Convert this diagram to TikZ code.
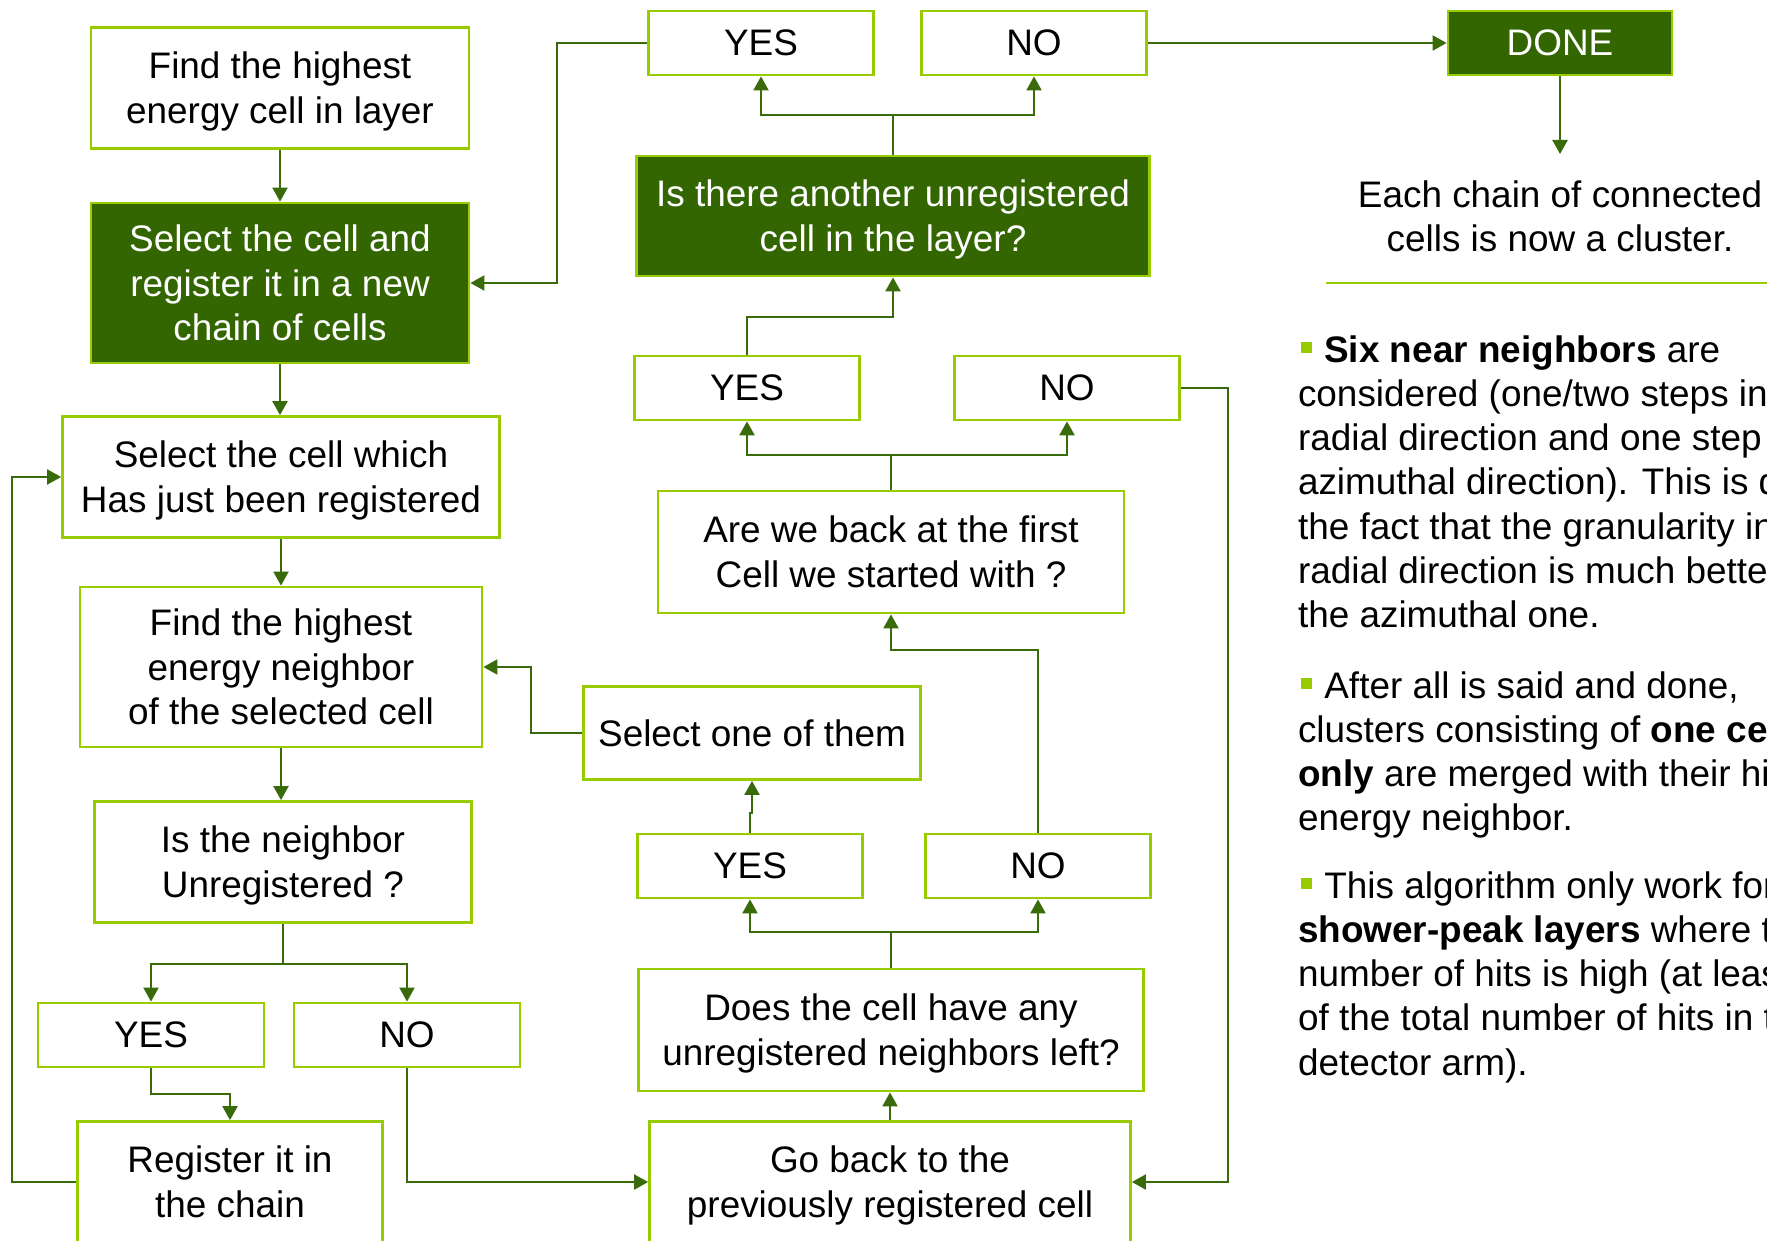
\documentclass[tikz,border=0pt]{standalone}
\usepackage{fontspec}
\setmainfont{Liberation Sans}
\usepackage{xcolor}
\usepackage{tikz}
\usetikzlibrary{arrows.meta}
\definecolor{CLDark}{HTML}{336600}
\definecolor{CLLime}{HTML}{99CC00}
\definecolor{CLLine}{HTML}{3A6B0A}
\tikzset{
  cbox/.style={draw=CLLime,line width=.8pt,fill=white,align=center,inner sep=0pt,
    font=\fontsize{10.5}{12.6}\selectfont},
  cdark/.style={cbox,fill=CLDark,text=white},
  cchoice/.style={cbox,minimum width=2.25cm,minimum height=.64cm},
  cnote/.style={inner sep=0pt,outer sep=0pt,align=left,anchor=north west,
    font=\fontsize{10.5}{12.6}\selectfont},
  cflow/.style={draw=CLLine,line width=.6pt,-{Triangle[width=4.3pt,length=4pt]}}
}
\newcommand{\lnup}{\rule{0pt}{10pt}}
\newcommand{\lndn}{\rule[-2.6pt]{0pt}{0pt}}
\newcommand{\bulsq}{\hspace*{0.8pt}\textcolor{CLLime}{\rule[2.6pt]{3.1pt}{3.1pt}}\hspace{3.6pt}}

\begin{document}
\begin{tikzpicture}[x=1cm,y=1cm]
\path[use as bounding box] (0,0) rectangle (17.67,12.40);
\fill[white] (0,0) rectangle (17.67,12.40);
\node[cbox,minimum width=3.78cm,minimum height=1.21cm] (findcell) at (2.80,11.52) {\lnup Find the highest\\energy cell in layer\lndn};
\node[cdark,minimum width=3.78cm,minimum height=1.60cm] (newchain) at (2.80,9.57) {\lnup Select the cell and\\register it in a new\\chain of cells\lndn};
\node[cbox,minimum width=4.37cm,minimum height=1.21cm] (selcell) at (2.81,7.63) {\lnup Select the cell which\\Has just been registered\lndn};
\node[cbox,minimum width=4.02cm,minimum height=1.60cm] (findnb) at (2.81,5.73) {\lnup Find the highest\\energy neighbor\\of the selected cell\lndn};
\node[cbox,minimum width=3.77cm,minimum height=1.21cm] (isunreg) at (2.83,3.78) {\lnup Is the neighbor\\ Unregistered ?\lndn};
\node[cchoice,minimum width=2.26cm] (yesunreg) at (1.51,2.05) {YES};
\node[cchoice,minimum width=2.26cm] (nounreg) at (4.07,2.05) {NO};
\node[cbox,minimum width=3.05cm,minimum height=1.21cm] (register) at (2.30,0.58) {\lnup Register it in\\the chain\lndn};
\node[cbox,minimum width=4.81cm,minimum height=1.21cm] (goback) at (8.90,0.58) {\lnup Go back to the\\previously registered cell\lndn};
\node[cbox,minimum width=5.05cm,minimum height=1.22cm] (anyleft) at (8.91,2.10) {\lnup Does the cell have any\\unregistered neighbors left?\lndn};
\node[cchoice] (yesleft) at (7.50,3.74) {YES};
\node[cchoice] (noleft) at (10.38,3.74) {NO};
\node[cbox,minimum width=3.37cm,minimum height=.93cm] (selone) at (7.52,5.07) {Select one of them};
\node[cbox,minimum width=4.66cm,minimum height=1.22cm] (backfirst) at (8.91,6.88) {\lnup Are we back at the first\\Cell we started with ?\lndn};
\node[cchoice] (yesfirst) at (7.47,8.52) {YES};
\node[cchoice] (nofirst) at (10.67,8.52) {NO};
\node[cdark,minimum width=5.13cm,minimum height=1.20cm] (another) at (8.93,10.24) {\lnup Is there another unregistered\\cell in the layer?\lndn};
\node[cchoice] (yesanother) at (7.61,11.97) {YES};
\node[cchoice] (noanother) at (10.34,11.97) {NO};
\node[cdark,minimum width=2.24cm,minimum height=.64cm] (done) at (15.60,11.97) {DONE};
\coordinate (donetip) at (15.60,10.86);
\node[align=center,inner sep=0pt,font=\fontsize{10.5}{12.6}\selectfont] (result) at (15.60,10.24) {Each chain of connected\\cells is now a cluster.};
\draw[CLLime,line width=.7pt] (13.26,9.57) -- (17.67,9.57);
\node[cnote] (noteA) at (12.98,9.09) {\strut\bulsq\textbf{Six near neighbors} are\\considered (one/two steps in\\radial direction and one step\\azimuthal direction). This is due\\the fact that the granularity in\\radial direction is much better\\the azimuthal one.};
\node[cnote] (noteB) at (12.98,5.73) {\strut\bulsq After all is said and done,\\clusters consisting of \textbf{one cell}\\\textbf{only} are merged with their highest\\energy neighbor.};
\node[cnote] (noteC) at (12.98,3.73) {\strut\bulsq This algorithm only work for\\\textbf{shower-peak layers} where the\\number of hits is high (at least\\of the total number of hits in the\\detector arm).};
\draw[cflow] (findcell.south) -- (findcell.south |- newchain.north);
\draw[cflow] (newchain.south) -- (newchain.south |- selcell.north);
\draw[cflow] (selcell.south) -- (selcell.south |- findnb.north);
\draw[cflow] (findnb.south) -- (findnb.south |- isunreg.north);
\draw[cflow] (isunreg.south) -- ++(0,-.40) -| (yesunreg.north);
\draw[cflow] (isunreg.south) -- ++(0,-.40) -| (nounreg.north);
\draw[cflow] (yesunreg.south) -- ++(0,-.26) -| (register.north);
\draw[cflow] (nounreg.south) |- (goback.west);
\draw[cflow] (register.west) -- ++(-.64,0) |- (selcell.west);
\draw[cflow] (goback.north) -- (goback.north |- anyleft.south);
\draw[cflow] (anyleft.north) -- ++(0,.36) -| (yesleft.south);
\draw[cflow] (anyleft.north) -- ++(0,.36) -| (noleft.south);
\draw[cflow] (yesleft.north) -- ++(0,.20) -| (selone.south);
\draw[cflow] (selone.west) -- ++(-.51,0) |- (findnb.east);
\draw[cflow] (noleft.north) -- ++(0,1.83) -| (backfirst.south);
\draw[cflow] (backfirst.north) -- ++(0,.35) -| (yesfirst.south);
\draw[cflow] (backfirst.north) -- ++(0,.35) -| (nofirst.south);
\draw[cflow] (yesfirst.north) -- ++(0,.38) -| (another.south);
\draw[cflow] (nofirst.east) -- ++(.47,0) |- (goback.east);
\draw[cflow] (another.north) -- ++(0,.40) -| (yesanother.south);
\draw[cflow] (another.north) -- ++(0,.40) -| (noanother.south);
\draw[cflow] (yesanother.west) -- ++(-.90,0) |- (newchain.east);
\draw[cflow] (noanother.east) -- (done.west);
\draw[cflow] (done.south) -- (donetip);
\end{tikzpicture}
\end{document}
